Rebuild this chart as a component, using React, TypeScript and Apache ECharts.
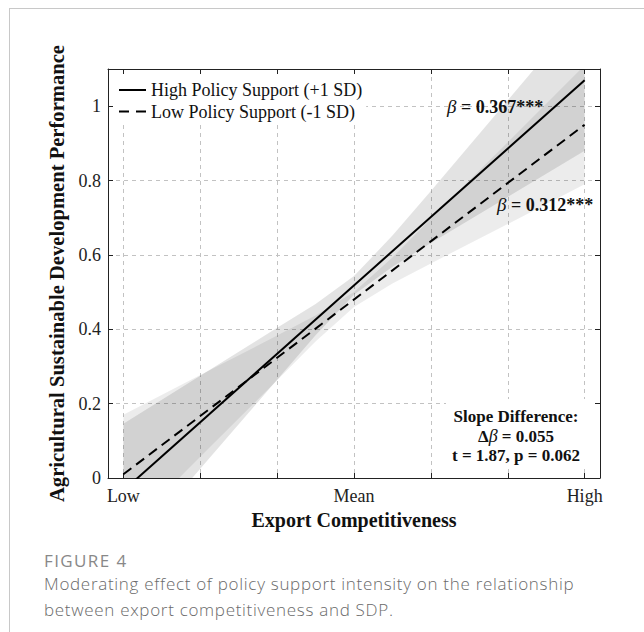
import React, { useEffect, useRef } from "react";
import * as echarts from "echarts";

// ---- data ----
const xTickValues = [-3, -2, -1, 0, 1, 2, 3];
const xLabelValues = [-3, 0, 3];
const xLabelTexts = ["Low", "Mean", "High"];
const yTickValues = [0, 0.2, 0.4, 0.6, 0.8, 1];

const seriesNames = ["High Policy Support (+1 SD)", "Low Policy Support (-1 SD)"];

const lineX = [-3, 3];
const highLineY = [-0.034, 1.07];
const lowLineY = [0.01, 0.95];

const bandX = [-3, -2, -1, -0.5, 0, 0.5, 1, 2, 3];
const highLower = [-0.214, 0.025, 0.264, 0.384, 0.493, 0.568, 0.632, 0.756, 0.88];
const highUpper = [0.146, 0.275, 0.404, 0.468, 0.543, 0.652, 0.772, 1.016, 1.26];
const lowLower = [-0.15, 0.057, 0.263, 0.367, 0.46, 0.523, 0.577, 0.683, 0.79];
const lowUpper = [0.17, 0.277, 0.383, 0.437, 0.5, 0.593, 0.697, 0.903, 1.11];

const slopeHigh = "0.367***";
const slopeLow = "0.312***";
const slopeDiffTitle = "Slope Difference:";
const slopeDiff = "0.055";
const slopeTest = "t = 1.87, p = 0.062";

const caption1 = "FIGURE 4";
const caption2 = "Moderating effect of policy support intensity on the relationship";
const caption3 = "between export competitiveness and SDP.";

const SERIF = "'Liberation Serif', 'Times New Roman', serif";

export default function App() {
  const ref = useRef<HTMLDivElement>(null);
  useEffect(() => {
    const chart = echarts.init(ref.current!, null, { renderer: "svg" });
    const axisColor = "#222";
    const band = (key: string, lower: number[], upper: number[], color: string) => ({
      name: key,
      type: "custom",
      silent: true,
      clip: true,
      z: 1,
      data: [[0, 0.5]],
      renderItem: (params: any, api: any) => {
        const top = bandX.map((x, i) => api.coord([x, upper[i]]));
        const bottom = bandX.map((x, i) => api.coord([x, lower[i]])).reverse();
        const cs = params.coordSys;
        return {
          type: "polygon",
          shape: { points: [...top, ...bottom] },
          style: { fill: color },
          clipPath: { type: "rect", shape: { x: cs.x, y: cs.y, width: cs.width, height: cs.height } },
        };
      },
    });
    const commonX = {
      type: "value",
      min: -3.2,
      max: 3.2,
      gridIndex: 0,
      axisLine: { show: true, onZero: false, lineStyle: { color: axisColor, width: 1 } },
      axisTick: { show: true, inside: true, length: 5, customValues: xTickValues, lineStyle: { color: axisColor } },
    };
    const commonY = {
      type: "value",
      min: 0,
      max: 1.1,
      gridIndex: 0,
      axisLine: { show: true, onZero: false, lineStyle: { color: axisColor, width: 1 } },
      axisTick: { show: true, inside: true, length: 5, customValues: yTickValues, lineStyle: { color: axisColor } },
    };
    const betaRich = {
      i: { fontFamily: SERIF, fontSize: 19, fontStyle: "italic", fill: "#111" },
      b: { fontFamily: SERIF, fontSize: 18, fontWeight: "bold", fill: "#111" },
    };
    chart.setOption({
      animation: false,
      backgroundColor: "transparent",
      grid: { left: 108, right: 44, top: 69, bottom: 154 },
      legend: {
        data: [
          { name: seriesNames[0], icon: "path://M0,0H27V2H0Z" },
          { name: seriesNames[1], icon: "path://M0,0H10V2H0Z M17,0H27V2H17Z" },
        ],
        orient: "vertical",
        left: 115,
        top: 77,
        padding: [4, 4],
        itemGap: 3.5,
        itemWidth: 27,
        itemHeight: 18,
        backgroundColor: "#fff",
        selectedMode: false,
        textStyle: { fontFamily: SERIF, fontSize: 18, color: "#111" },
      },
      xAxis: [
        {
          ...commonX,
          position: "bottom",
          axisLabel: {
            customValues: xLabelValues,
            formatter: (v: number) => xLabelTexts[xLabelValues.indexOf(v)] ?? "",
            margin: 9,
            fontFamily: SERIF,
            fontSize: 18,
            color: "#222",
          },
          splitLine: { show: true, lineStyle: { type: [4, 4], color: "#c2c2c2", width: 1 } },
          name: "Export Competitiveness",
          nameLocation: "middle",
          nameGap: 31,
          nameTextStyle: { fontFamily: SERIF, fontSize: 20, fontWeight: "bold", color: "#111" },
        },
        { ...commonX, position: "top", axisLabel: { show: false }, splitLine: { show: false } },
      ],
      yAxis: [
        {
          ...commonY,
          position: "left",
          axisLabel: {
            customValues: yTickValues,
            formatter: (v: number) => String(+v.toFixed(2)),
            margin: 7,
            fontFamily: SERIF,
            fontSize: 18,
            color: "#222",
          },
          splitLine: { show: true, lineStyle: { type: [4, 4], color: "#c2c2c2", width: 1 } },
          name: "Agricultural Sustainable Development Performance",
          nameLocation: "middle",
          nameGap: 31,
          nameTextStyle: { fontFamily: SERIF, fontSize: 20.6, fontWeight: "bold", color: "#111" },
        },
        { ...commonY, position: "right", axisLabel: { show: false }, splitLine: { show: false } },
      ],
      series: [
        band("high-band", highLower, highUpper, "rgba(0,0,0,0.11)"),
        band("low-band", lowLower, lowUpper, "rgba(0,0,0,0.075)"),
        {
          name: seriesNames[0],
          type: "line",
          data: lineX.map((x, i) => [x, highLineY[i]]),
          symbol: "none",
          lineStyle: { color: "#000", width: 2, type: "solid" },
          itemStyle: { color: "#000" },
          z: 3,
        },
        {
          name: seriesNames[1],
          type: "line",
          data: lineX.map((x, i) => [x, lowLineY[i]]),
          symbol: "none",
          lineStyle: { color: "#000", width: 2, type: [10, 6] },
          itemStyle: { color: "#000" },
          z: 3,
        },
      ],
      graphic: [
        {
          type: "text",
          left: 447,
          top: 97,
          z: 20,
          style: { text: "{i|β}{b| = " + slopeHigh + "}", rich: betaRich },
        },
        {
          type: "text",
          left: 497,
          top: 195,
          z: 20,
          style: { text: "{i|β}{b| = " + slopeLow + "}", rich: betaRich },
        },
        {
          type: "rect",
          z: 15,
          shape: { x: 446, y: 399, width: 149, height: 68 },
          style: { fill: "#fff" },
        },
        {
          type: "text",
          x: 516,
          y: 416,
          z: 20,
          style: {
            text: slopeDiffTitle,
            fontFamily: SERIF,
            fontSize: 17,
            fontWeight: "bold",
            fill: "#111",
            align: "center",
            verticalAlign: "middle",
          },
        },
        {
          type: "text",
          x: 516,
          y: 436,
          z: 20,
          style: {
            text: "{b|Δ}{i|β}{b| = " + slopeDiff + "}",
            align: "center",
            verticalAlign: "middle",
            rich: {
              i: { fontFamily: SERIF, fontSize: 18, fontStyle: "italic", fill: "#111" },
              b: { fontFamily: SERIF, fontSize: 17, fontWeight: "bold", fill: "#111" },
            },
          },
        },
        {
          type: "text",
          x: 516,
          y: 455,
          z: 20,
          style: {
            text: slopeTest,
            fontFamily: SERIF,
            fontSize: 17,
            fontWeight: "bold",
            fill: "#111",
            align: "center",
            verticalAlign: "middle",
          },
        },
      ],
    });
    return () => chart.dispose();
  }, []);

  return (
    <div style={{ position: "absolute", left: 0, top: 0, width: 644, height: 632, background: "#fff", overflow: "hidden" }}>
      <div
        style={{
          position: "absolute",
          left: 9,
          top: 8,
          width: 635,
          height: 624,
          borderLeft: "1px solid #c8c8c8",
          borderTop: "1px solid #c8c8c8",
          boxSizing: "border-box",
        }}
      />
      <div ref={ref} style={{ position: "absolute", left: 0, top: 0, width: 644, height: 632 }} />
      <div
        style={{
          position: "absolute",
          left: 44,
          top: 551,
          fontFamily: "'Open Sans', sans-serif",
          fontSize: 17,
          letterSpacing: "1.4px",
          lineHeight: "20px",
          color: "#888",
          whiteSpace: "nowrap",
        }}
      >
        {caption1}
      </div>
      <div
        style={{
          position: "absolute",
          left: 44,
          top: 571,
          fontFamily: "'Open Sans', sans-serif",
          fontWeight: 300,
          fontSize: 17,
          letterSpacing: "0.7px",
          lineHeight: "26px",
          color: "#6a6a6a",
          whiteSpace: "nowrap",
        }}
      >
        <div>{caption2}</div>
        <div>{caption3}</div>
      </div>
    </div>
  );
}
